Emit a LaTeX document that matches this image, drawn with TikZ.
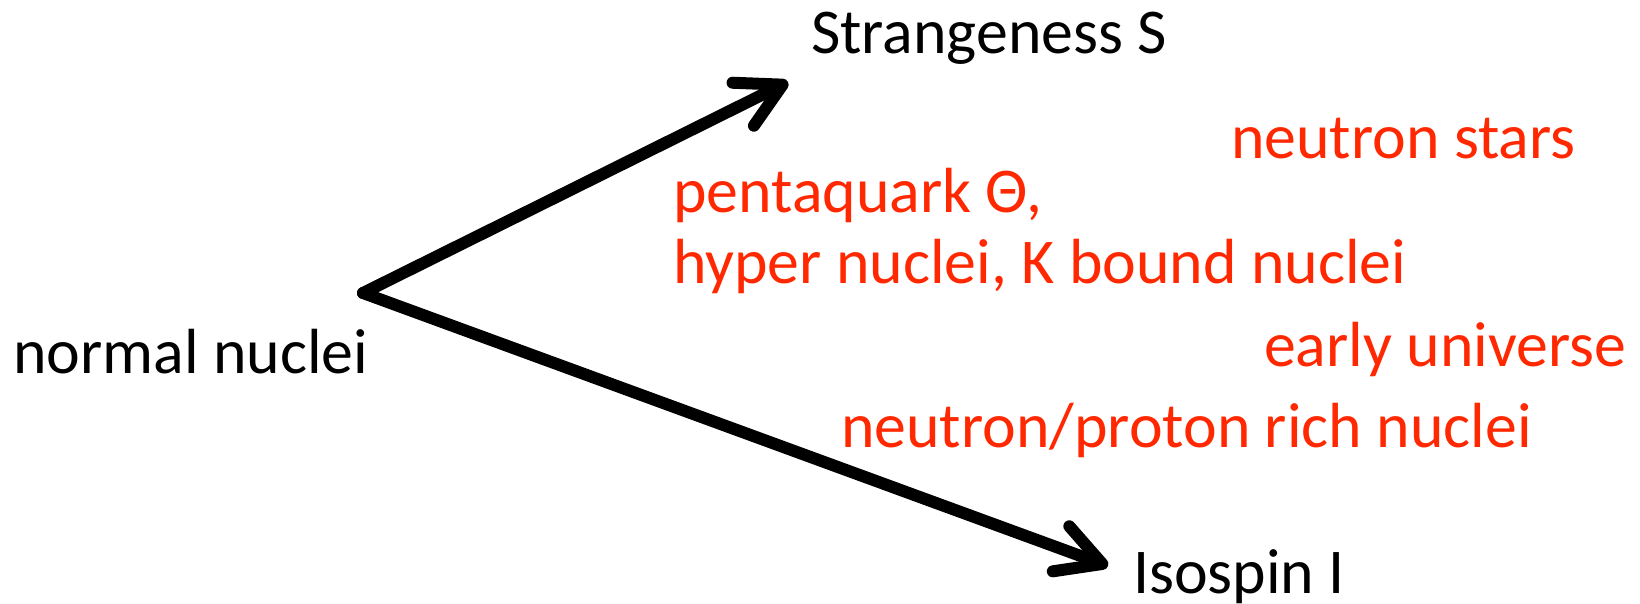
\documentclass[tikz,border=0pt]{standalone}
\usepackage{fontspec}
\setmainfont{Carlito}
\usetikzlibrary{arrows.meta}
\definecolor{lblred}{RGB}{255,40,0}
\begin{document}
\begin{tikzpicture}[x=1pt,y=-1pt,
  lbl/.style={anchor=base west,inner sep=0pt,font=\fontsize{63.8}{76}\selectfont},
  redlbl/.style={lbl,text=lblred},
  axis/.style={line width=12pt,line cap=round,-{Straight Barb[length=44pt,width=48pt,round]}}]
\useasboundingbox (0,0) rectangle (1640,604);
\coordinate (O) at (363,293);
\coordinate (S) at (788,82);
\coordinate (I) at (1108,566);
\draw[axis] (O) -- (S);
\draw[axis] (O) -- (I);
\node[lbl] (strange) at (811,54) {Strangeness S};
\node[lbl] (normal) at (13,373) {normal nuclei};
\node[lbl] (iso) at (1133,593) {Isospin I};
\node[redlbl] (nstars) at (1231,159) {neutron stars};
\node[redlbl] (penta) at (673,212) {pentaquark Θ,};
\node[redlbl] (hyper) at (673,283) {hyper nuclei, K bound nuclei};
\node[redlbl] (early) at (1264,366) {early universe};
\node[redlbl] (rich) at (841,447) {neutron/proton rich nuclei};
\end{tikzpicture}
\end{document}
